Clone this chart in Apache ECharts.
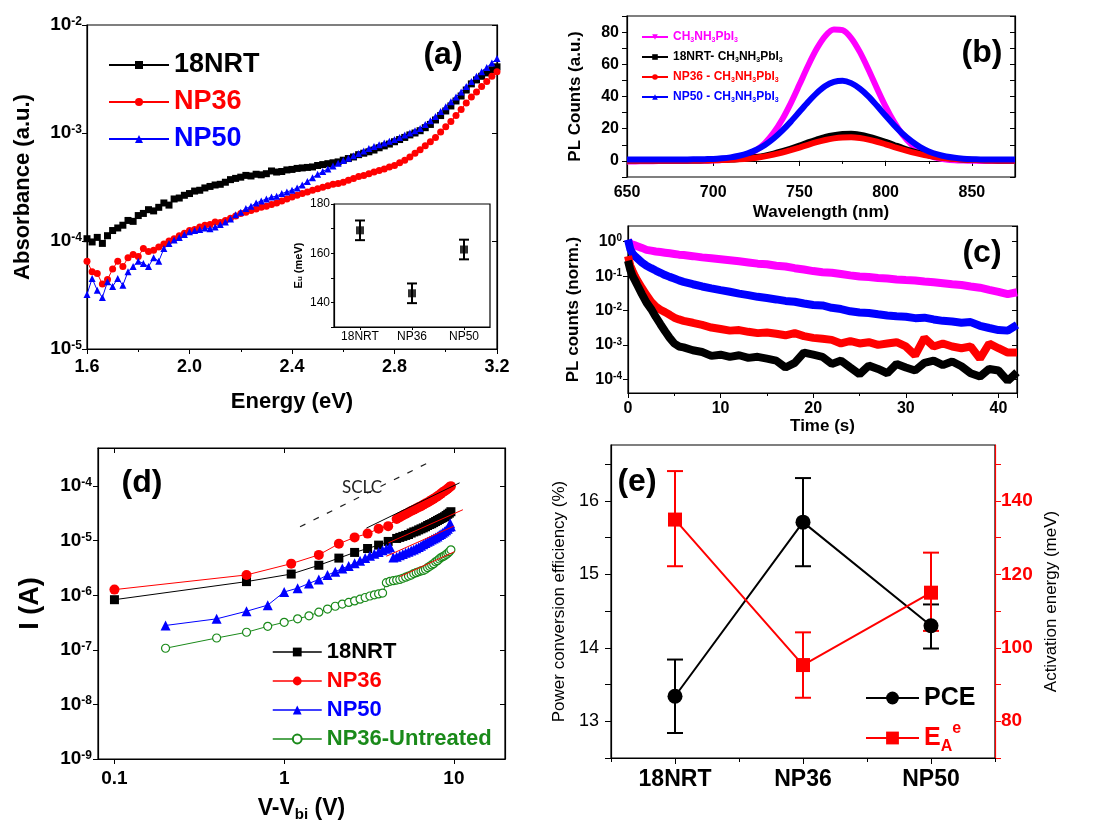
<!DOCTYPE html>
<html><head><meta charset="utf-8">
<script src="https://cdn.jsdelivr.net/npm/echarts@6/dist/echarts.min.js"></script>
<style>html,body{margin:0;padding:0;background:#fff}#c{width:1115px;height:825px}</style>
</head><body><div id="c"></div>
<script>
// ---------------- DATA ----------------
// (a) absorbance vs energy
const absEnergy = [1.60,1.62,1.64,1.66,1.68,1.70,1.72,1.74,1.76,1.78,1.80,1.82,1.84,1.86,1.88,1.90,1.92,1.94,1.96,1.98,2.00,2.02,2.04,2.06,2.08,2.10,2.12,2.14,2.16,2.18,2.20,2.22,2.24,2.26,2.28,2.30,2.32,2.34,2.36,2.38,2.40,2.42,2.44,2.46,2.48,2.50,2.52,2.54,2.56,2.58,2.60,2.62,2.64,2.66,2.68,2.70,2.72,2.74,2.76,2.78,2.80,2.82,2.84,2.86,2.88,2.90,2.92,2.94,2.96,2.98,3.00,3.02,3.04,3.06,3.08,3.10,3.12,3.14,3.16,3.18,3.20];
const abs18NRT = [1.05e-4,0.98e-4,1.08e-4,0.95e-4,1.12e-4,1.25e-4,1.32e-4,1.40e-4,1.55e-4,1.52e-4,1.72e-4,1.80e-4,1.95e-4,1.90e-4,2.05e-4,2.25e-4,2.15e-4,2.45e-4,2.50e-4,2.65e-4,2.75e-4,2.90e-4,2.95e-4,3.10e-4,3.20e-4,3.30e-4,3.35e-4,3.50e-4,3.70e-4,3.80e-4,3.90e-4,4.05e-4,4.00e-4,4.15e-4,4.10e-4,4.20e-4,4.45e-4,4.35e-4,4.40e-4,4.55e-4,4.60e-4,4.70e-4,4.75e-4,4.80e-4,4.85e-4,5.00e-4,5.10e-4,5.20e-4,5.30e-4,5.40e-4,5.60e-4,5.80e-4,6.00e-4,6.30e-4,6.50e-4,6.70e-4,6.95e-4,7.30e-4,7.60e-4,7.90e-4,8.30e-4,8.70e-4,9.10e-4,9.60e-4,1.00e-3,1.05e-3,1.12e-3,1.20e-3,1.32e-3,1.45e-3,1.60e-3,1.78e-3,1.98e-3,2.20e-3,2.50e-3,2.85e-3,3.10e-3,3.35e-3,3.60e-3,3.85e-3,4.10e-3];
const absNP36 = [6.5e-5,5.2e-5,5.0e-5,4.0e-5,4.4e-5,5.5e-5,6.5e-5,5.8e-5,7.0e-5,7.5e-5,7.2e-5,8.5e-5,8.0e-5,8.2e-5,8.8e-5,9.4e-5,1.0e-4,1.05e-4,1.12e-4,1.18e-4,1.25e-4,1.28e-4,1.35e-4,1.40e-4,1.42e-4,1.50e-4,1.48e-4,1.55e-4,1.62e-4,1.70e-4,1.80e-4,1.85e-4,1.92e-4,1.98e-4,2.05e-4,2.10e-4,2.18e-4,2.25e-4,2.35e-4,2.45e-4,2.55e-4,2.65e-4,2.75e-4,2.85e-4,2.95e-4,3.05e-4,3.15e-4,3.25e-4,3.35e-4,3.40e-4,3.50e-4,3.65e-4,3.80e-4,3.95e-4,4.05e-4,4.20e-4,4.35e-4,4.50e-4,4.65e-4,4.85e-4,5.00e-4,5.30e-4,5.60e-4,6.00e-4,6.50e-4,7.00e-4,7.60e-4,8.30e-4,9.10e-4,1.02e-3,1.14e-3,1.28e-3,1.45e-3,1.65e-3,1.90e-3,2.15e-3,2.40e-3,2.70e-3,3.00e-3,3.35e-3,3.70e-3];
const absNP50 = [3.2e-5,4.5e-5,3.5e-5,3.0e-5,4.2e-5,3.8e-5,4.5e-5,3.9e-5,5.2e-5,5.8e-5,6.5e-5,6.2e-5,5.8e-5,7.0e-5,6.5e-5,8.5e-5,9.5e-5,1.02e-4,1.08e-4,1.15e-4,1.22e-4,1.25e-4,1.28e-4,1.32e-4,1.30e-4,1.35e-4,1.42e-4,1.50e-4,1.60e-4,1.75e-4,1.85e-4,2.00e-4,2.10e-4,2.25e-4,2.35e-4,2.45e-4,2.55e-4,2.60e-4,2.75e-4,2.85e-4,2.95e-4,3.10e-4,3.30e-4,3.55e-4,3.85e-4,4.15e-4,4.40e-4,4.65e-4,4.95e-4,5.25e-4,5.55e-4,5.85e-4,6.15e-4,6.45e-4,6.80e-4,7.20e-4,7.50e-4,7.80e-4,8.10e-4,8.40e-4,8.70e-4,9.10e-4,9.60e-4,1.00e-3,1.05e-3,1.10e-3,1.20e-3,1.30e-3,1.42e-3,1.58e-3,1.75e-3,1.95e-3,2.15e-3,2.40e-3,2.70e-3,3.00e-3,3.35e-3,3.70e-3,4.05e-3,4.45e-3,4.90e-3];
// (a) inset: Urbach energy
const insetSamples = ['18NRT','NP36','NP50'];
const insetEu = [169.3,143.7,161.5];
const insetEuErr = [4,4,4];
// (b) PL spectra
const plWavelength = [650,655,660,665,670,675,680,685,690,695,700,705,710,715,720,725,730,735,740,745,750,755,760,765,770,775,780,785,790,795,800,805,810,815,820,825,830,835,840,845,850,855,860,865,870,875];
const plMAPI = [-0.3,-0.3,-0.2,-0.2,-0.1,0,0,0,0.1,0.1,0.3,0.5,1.1,2.1,3.8,6.7,11.1,17.4,25.7,35.9,47.4,59.1,69.6,77.6,81.6,81.2,76.3,67.7,56.8,45.0,33.7,23.9,16.0,10.1,6.0,3.4,1.8,0.9,0.4,0.2,0.1,0,0,0,0,0];
const pl18NRT = [0.3,0.3,0.3,0.3,0.3,0.3,0.3,0.3,0.3,0.35,0.5,0.6,0.8,1.2,1.7,2.4,3.3,4.5,6.0,7.7,9.5,11.5,13.3,14.9,16.0,16.7,16.8,16.2,15.1,13.6,11.8,9.9,8.0,6.3,4.8,3.5,2.5,1.8,1.3,0.9,0.7,0.5,0.4,0.3,0.3,0.3];
const plNP36 = [0.2,0.2,0.2,0.2,0.2,0.2,0.2,0.2,0.2,0.25,0.35,0.5,0.7,1.0,1.4,2.0,2.8,3.9,5.2,6.7,8.3,10.0,11.6,13.0,14.0,14.6,14.7,14.2,13.2,11.9,10.3,8.6,7.0,5.5,4.2,3.1,2.2,1.6,1.1,0.8,0.6,0.4,0.3,0.2,0.2,0.2];
const plNP50 = [0.8,0.8,0.8,0.8,0.8,0.8,0.9,0.9,1.0,1.1,1.2,1.6,2.2,3.2,4.7,6.9,9.9,13.9,18.8,24.4,30.5,36.6,42.1,46.5,49.1,49.8,48.3,44.9,40.1,34.2,28.0,22.1,16.7,12.2,8.6,5.9,4.0,2.7,1.9,1.4,1.1,0.9,0.8,0.8,0.8,0.8];
// (c) PL decay
const trTime = [0,0.25,0.5,0.75,1,1.5,2,2.5,3,3.5,4,4.5,5,5.5,6,7,8,9,10,11,12,13,14,15,16,17,18,19,20,21,22,23,24,25,26,27,28,29,30,31,32,33,34,35,36,37,38,39,40,41,42];
const trMAPI = [1.05,0.88,0.82,0.78,0.74,0.66,0.58,0.55,0.52,0.5,0.48,0.46,0.44,0.42,0.41,0.38,0.35,0.33,0.31,0.29,0.27,0.25,0.23,0.22,0.2,0.19,0.17,0.155,0.14,0.13,0.125,0.115,0.105,0.098,0.094,0.088,0.085,0.08,0.077,0.075,0.07,0.066,0.062,0.058,0.055,0.05,0.046,0.04,0.035,0.03,0.034];
const trNP50 = [1.15,0.6,0.45,0.38,0.33,0.25,0.2,0.17,0.145,0.125,0.107,0.095,0.085,0.075,0.068,0.058,0.05,0.044,0.039,0.035,0.031,0.028,0.025,0.023,0.021,0.019,0.018,0.016,0.0145,0.014,0.012,0.011,0.0095,0.0088,0.0085,0.0078,0.0072,0.0068,0.0066,0.006,0.0062,0.0055,0.005,0.0048,0.0044,0.0046,0.0036,0.0031,0.0027,0.0026,0.0038];
const trNP36 = [0.38,0.2,0.14,0.1,0.075,0.045,0.028,0.018,0.013,0.0105,0.009,0.0075,0.0062,0.0055,0.005,0.0044,0.0038,0.0032,0.0029,0.0026,0.0027,0.0024,0.0022,0.0023,0.0021,0.0019,0.0022,0.0018,0.0016,0.0015,0.0014,0.0011,0.0013,0.0011,0.0012,0.001,0.0011,0.0012,0.0009,0.0005,0.0016,0.0009,0.0011,0.0009,0.0008,0.0009,0.0004,0.0011,0.0008,0.0006,0.0006];
const tr18NRT = [0.28,0.15,0.1,0.075,0.055,0.03,0.017,0.011,0.0065,0.004,0.0025,0.0016,0.0011,0.0009,0.00085,0.0007,0.00062,0.00048,0.00052,0.00045,0.0005,0.00042,0.00045,0.0004,0.00035,0.00022,0.0003,0.0006,0.00052,0.00045,0.00028,0.00035,0.00022,0.00014,0.00025,0.0002,0.00015,0.00028,0.00022,0.00018,0.0003,0.00035,0.00026,0.00033,0.00024,0.00015,0.00012,0.0002,0.00018,0.00009,0.00016];
// (d) I-V (log-log)
const ivV18NRT = [0.1,0.6,1.1,1.6,2.1,2.6,3.1,3.6,4.1,4.6,4.8,5.0,5.2,5.4,5.6,5.8,6.0,6.2,6.4,6.6,6.8,7.0,7.2,7.4,7.6,7.8,8.0,8.2,8.4,8.6,8.8,9.0,9.2,9.4,9.6];
const ivI18NRT = [8.3e-7,1.78e-6,2.45e-6,3.55e-6,4.8e-6,6.1e-6,7.2e-6,8.3e-6,9.7e-6,1.1e-5,1.15e-5,1.2e-5,1.25e-5,1.3e-5,1.38e-5,1.45e-5,1.5e-5,1.58e-5,1.65e-5,1.72e-5,1.8e-5,1.9e-5,1.98e-5,2.05e-5,2.15e-5,2.25e-5,2.35e-5,2.45e-5,2.55e-5,2.65e-5,2.75e-5,2.9e-5,3.05e-5,3.2e-5,3.4e-5];
const ivVNP36 = [0.1,0.6,1.1,1.6,2.1,2.6,3.1,3.6,4.1,4.6,4.8,5.0,5.2,5.4,5.6,5.8,6.0,6.2,6.4,6.6,6.8,7.0,7.2,7.4,7.6,7.8,8.0,8.2,8.4,8.6,8.8,9.0,9.2,9.4,9.6];
const ivINP36 = [1.27e-6,2.36e-6,3.8e-6,5.5e-6,8.8e-6,1.15e-5,1.35e-5,1.66e-5,1.85e-5,2.5e-5,2.7e-5,2.9e-5,3.1e-5,3.3e-5,3.5e-5,3.7e-5,3.9e-5,4.1e-5,4.3e-5,4.55e-5,4.8e-5,5.0e-5,5.3e-5,5.6e-5,5.9e-5,6.2e-5,6.5e-5,6.9e-5,7.3e-5,7.7e-5,8.1e-5,8.5e-5,9.0e-5,9.5e-5,1.0e-4];
const ivVNP50 = [0.2,0.4,0.6,0.8,1.0,1.2,1.4,1.6,1.8,2.0,2.2,2.4,2.6,2.8,3.0,3.2,3.4,3.6,3.8,4.0,4.2,4.4,4.6,4.8,5.0,5.2,5.4,5.6,5.8,6.0,6.2,6.4,6.6,6.8,7.0,7.2,7.4,7.6,7.8,8.0,8.2,8.4,8.6,8.8,9.0,9.2,9.4,9.5,9.6];
const ivINP50 = [2.8e-7,3.7e-7,5.1e-7,6.6e-7,1.15e-6,1.35e-6,1.65e-6,1.95e-6,2.35e-6,2.7e-6,3.1e-6,3.45e-6,3.85e-6,4.3e-6,4.8e-6,5.3e-6,5.8e-6,6.2e-6,6.7e-6,7.1e-6,7.7e-6,4.9e-6,5.1e-6,5.4e-6,5.7e-6,6.0e-6,6.3e-6,6.6e-6,6.9e-6,7.3e-6,7.7e-6,8.1e-6,8.6e-6,9.1e-6,9.6e-6,1.0e-5,1.05e-5,1.1e-5,1.15e-5,1.2e-5,1.27e-5,1.33e-5,1.4e-5,1.47e-5,1.55e-5,1.65e-5,1.8e-5,2.1e-5,1.85e-5];
const ivVUntr = [0.2,0.4,0.6,0.8,1.0,1.2,1.4,1.6,1.8,2.0,2.2,2.4,2.6,2.8,3.0,3.2,3.4,3.6,3.8,4.0,4.2,4.4,4.6,4.8,5.0,5.2,5.4,5.6,5.8,6.0,6.2,6.4,6.6,6.8,7.0,7.2,7.4,7.6,7.8,8.0,8.2,8.4,8.6,8.8,9.0,9.2,9.4,9.6];
const ivIUntr = [1.07e-7,1.65e-7,2.1e-7,2.7e-7,3.2e-7,3.7e-7,4.2e-7,4.9e-7,5.6e-7,6.3e-7,6.9e-7,7.4e-7,7.9e-7,8.5e-7,9.1e-7,9.7e-7,1.02e-6,1.06e-6,1.1e-6,1.7e-6,1.8e-6,1.85e-6,1.9e-6,1.95e-6,2.05e-6,2.15e-6,2.25e-6,2.35e-6,2.5e-6,2.6e-6,2.7e-6,2.8e-6,2.85e-6,3.0e-6,3.2e-6,3.4e-6,3.6e-6,3.8e-6,4.1e-6,4.3e-6,4.6e-6,4.9e-6,5.1e-6,5.3e-6,5.6e-6,5.9e-6,6.3e-6,6.8e-6];
const fitNP36 = [[3.05,1.7e-5],[10.8,1.15e-4]];
const fit18NRT = [[4.1,9.1e-6],[11.3,3.7e-5]];
const fitNP50 = [[4.0,5.2e-6],[10.0,1.85e-5]];
const fitUntr = [[4.8,2.2e-6],[10.1,6.3e-6]];
const sclcGuide = [[1.24,1.8e-5],[6.9,2.6e-4]];
// (e) PCE and activation energy
const devSamples = ['18NRT','NP36','NP50'];
const pce = [13.34,15.71,14.30];
const pceLow = [12.84,15.11,13.99];
const pceHigh = [13.84,16.31,14.59];
const actE = [134.9,95.3,115.0];
const actELow = [122.2,86.4,104.6];
const actEHigh = [148.1,104.2,125.9];

// ---------------- HELPERS ----------------
const FF = '"Liberation Sans", Arial, sans-serif';
const zip = (xs, ys) => xs.map((x, i) => [x, ys[i]]);
function pow10(v) {
  const l = Math.log10(v), e = Math.round(l);
  if (Math.abs(l - e) > 0.01) return '';
  return '{b|10}{s|' + e + '}';
}
function logRich(bs, ss) {
  return { b: { fontSize: bs, fontWeight: 'bold', fontFamily: FF, color: '#000' },
           s: { fontSize: ss, fontWeight: 'bold', fontFamily: FF, color: '#000', verticalAlign: 'top', lineHeight: ss } };
}
function errBar(color, cap, lw) {
  return function (params, api) {
    const x = api.value(0), lo = api.value(1), hi = api.value(2);
    const a = api.coord([x, lo]), b = api.coord([x, hi]);
    const st = { stroke: color, lineWidth: lw };
    return { type: 'group', children: [
      { type: 'line', shape: { x1: a[0], y1: a[1], x2: b[0], y2: b[1] }, style: st },
      { type: 'line', shape: { x1: a[0] - cap, y1: a[1], x2: a[0] + cap, y2: a[1] }, style: st },
      { type: 'line', shape: { x1: b[0] - cap, y1: b[1], x2: b[0] + cap, y2: b[1] }, style: st }
    ] };
  };
}
const frame = { show: true, borderColor: '#000', borderWidth: 1.2, backgroundColor: 'transparent' };
const axLine = (c) => ({ show: true, lineStyle: { color: c || '#000', width: 1.2 } });
const tickOut = { show: true, inside: false, length: 5, lineStyle: { color: '#000' } };
const tickIn = { show: true, inside: true, length: 5, lineStyle: { color: '#000' } };
const minorOut = { show: true, splitNumber: 2, length: 3, lineStyle: { color: '#000' } };
const hiddenLabel = { show: false };
const titleStyle = (fs, bold) => ({ fontSize: fs, fontWeight: bold ? 'bold' : 'normal', color: '#000', fontFamily: FF });

const legendLabels = {
  a18: '18NRT', a36: 'NP36', a50: 'NP50',
  bM: 'CH{s|3}NH{s|3}PbI{s|3}', b18: '18NRT- CH{s|3}NH{s|3}PbI{s|3}', b36: 'NP36 - CH{s|3}NH{s|3}PbI{s|3}', b50: 'NP50 - CH{s|3}NH{s|3}PbI{s|3}',
  d18: '18NRT', d36: 'NP36', d50: 'NP50', dU: 'NP36-Untreated',
  ePCE: 'PCE', eEA: 'E{s|A}{p|e}'
};
const lf = (n) => legendLabels[n] || n;

// ---------------- CHART ----------------
const chart = echarts.init(document.getElementById('c'), null, { renderer: 'canvas' });
const option = {
  animation: false,
  backgroundColor: '#fff',
  grid: [
    Object.assign({ left: 87, top: 25, width: 410, height: 324 }, frame),
    Object.assign({}, frame, { left: 334, top: 204, width: 156, height: 123, backgroundColor: '#fff', z: 5 }),
    Object.assign({ left: 627, top: 16, width: 388, height: 161 }, frame),
    Object.assign({ left: 628, top: 226, width: 389, height: 167 }, frame),
    Object.assign({ left: 98, top: 448, width: 407, height: 311 }, frame),
    Object.assign({ left: 611, top: 445, width: 384, height: 313 }, frame)
  ],
  xAxis: [
    // 0: (a)
    { gridIndex: 0, type: 'value', min: 1.6, max: 3.2, interval: 0.4,
      axisLine: axLine(), axisTick: tickOut, minorTick: minorOut, splitLine: { show: false },
      axisLabel: { margin: 9, fontSize: 18, fontWeight: 'bold', color: '#000', fontFamily: FF, formatter: v => v.toFixed(1) },
      name: 'Energy (eV)', nameLocation: 'middle', nameGap: 42, nameTextStyle: titleStyle(22, true) },
    // 1: inset
    { gridIndex: 1, type: 'category', data: insetSamples, boundaryGap: true, z: 6,
      axisLine: axLine(), axisTick: { show: true, inside: false, alignWithLabel: true, length: 3, lineStyle: { color: '#000' } },
      axisLabel: { margin: 4, fontSize: 12, color: '#000', fontFamily: FF } },
    // 2: (b)
    { gridIndex: 2, type: 'value', min: 650, max: 875, interval: 50,
      axisLine: axLine(), axisTick: tickOut, minorTick: minorOut, splitLine: { show: false },
      axisLabel: { margin: 8, fontSize: 16, fontWeight: 'bold', color: '#000', fontFamily: FF, showMaxLabel: false },
      name: 'Wavelength (nm)', nameLocation: 'middle', nameGap: 27, nameTextStyle: titleStyle(17, true) },
    // 3: (c)
    { gridIndex: 3, type: 'value', min: 0, max: 42, interval: 10,
      axisLine: axLine(), axisTick: tickOut, minorTick: minorOut, splitLine: { show: false },
      axisLabel: { margin: 8, fontSize: 16, fontWeight: 'bold', color: '#000', fontFamily: FF, showMaxLabel: false },
      name: 'Time (s)', nameLocation: 'middle', nameGap: 25, nameTextStyle: titleStyle(17, true) },
    // 4: (d)
    { gridIndex: 4, type: 'log', min: 0.08, max: 20, logBase: 10,
      axisLine: axLine(), axisTick: tickOut, splitLine: { show: false },
      axisLabel: { margin: 10, fontSize: 19, fontWeight: 'bold', color: '#000', fontFamily: FF, showMinLabel: false, showMaxLabel: false,
                   formatter: v => { const l = Math.log10(v); return Math.abs(l - Math.round(l)) < 0.01 ? String(+v.toPrecision(3)) : ''; } },
      name: 'V-V{sub|bi} (V)', nameLocation: 'middle', nameGap: 36,
      nameTextStyle: Object.assign(titleStyle(23, true), {
        rich: { sub: { fontSize: 15, fontWeight: 'bold', fontFamily: FF, color: '#000', verticalAlign: 'bottom', padding: [12, 0, 0, 0] } } }) },
    // 5: (e)
    { gridIndex: 5, type: 'category', data: devSamples, boundaryGap: true,
      axisLine: axLine(), axisTick: { show: true, inside: false, alignWithLabel: true, length: 6, lineStyle: { color: '#000' } },
      axisLabel: { margin: 10, fontSize: 23, fontWeight: 'bold', color: '#000', fontFamily: FF } },
    // 6: (e) boundary ticks
    { gridIndex: 5, type: 'category', data: devSamples, boundaryGap: true, position: 'bottom',
      axisLine: axLine(), axisTick: { show: true, inside: false, length: 4, lineStyle: { color: '#000' } }, axisLabel: hiddenLabel },
    // 7: (d) top mirror
    { gridIndex: 4, type: 'log', min: 0.08, max: 20, logBase: 10, position: 'top',
      axisLine: axLine(), axisTick: tickIn, axisLabel: hiddenLabel, splitLine: { show: false } },
    // 8: (b) top mirror
    { gridIndex: 2, type: 'value', min: 650, max: 875, interval: 50, position: 'top',
      axisLine: axLine(), axisTick: tickIn, axisLabel: hiddenLabel, splitLine: { show: false } }
  ],
  yAxis: [
    // 0: (a)
    { gridIndex: 0, type: 'log', min: 1e-5, max: 1e-2, logBase: 10,
      axisLine: axLine(), axisTick: tickOut, splitLine: { show: false },
      axisLabel: { margin: 5, formatter: pow10, rich: logRich(19, 12) },
      name: 'Absorbance (a.u.)', nameLocation: 'middle', nameGap: 53, nameTextStyle: titleStyle(22, true) },
    // 1: inset
    { gridIndex: 1, type: 'value', min: 130, max: 180, interval: 10, z: 6,
      axisLine: axLine(), axisTick: { show: true, inside: false, length: 3, lineStyle: { color: '#000' } }, splitLine: { show: false },
      axisLabel: { margin: 4, fontSize: 12, color: '#000', fontFamily: FF, formatter: v => (v % 20 === 0 ? v : '') },
      name: 'E{sub|u} (meV)', nameLocation: 'middle', nameGap: 30,
      nameTextStyle: Object.assign(titleStyle(11, true), {
        rich: { sub: { fontSize: 8, fontWeight: 'bold', fontFamily: FF, color: '#000', verticalAlign: 'bottom' } } }) },
    // 2: (b)
    { gridIndex: 2, type: 'value', min: -10, max: 90, interval: 10,
      axisLine: axLine(), axisTick: tickOut, splitLine: { show: false },
      axisLabel: { margin: 8, fontSize: 16, fontWeight: 'bold', color: '#000', fontFamily: FF, formatter: v => (v % 20 === 0 ? v : '') },
      name: 'PL Counts (a.u.)', nameLocation: 'middle', nameGap: 43, nameTextStyle: titleStyle(17, true) },
    // 3: (c)
    { gridIndex: 3, type: 'log', min: 4e-5, max: 2.86, logBase: 10,
      axisLine: axLine(), axisTick: tickOut, splitLine: { show: false },
      axisLabel: { margin: 6, formatter: pow10, rich: logRich(16, 10), showMinLabel: false, showMaxLabel: false },
      name: 'PL counts (norm.)', nameLocation: 'middle', nameGap: 46, nameTextStyle: titleStyle(17, true) },
    // 4: (d)
    { gridIndex: 4, type: 'log', min: 1e-9, max: 5e-4, logBase: 10,
      axisLine: axLine(), axisTick: tickOut, splitLine: { show: false },
      axisLabel: { margin: 6, formatter: pow10, rich: logRich(19, 12), showMaxLabel: false },
      name: 'I (A)', nameLocation: 'middle', nameGap: 54, nameTextStyle: titleStyle(27, true) },
    // 5: (e) left
    { gridIndex: 5, type: 'value', min: 12.5, max: 16.76, interval: 0.5, position: 'left',
      axisLine: axLine(), axisTick: { show: true, inside: false, length: 6, lineStyle: { color: '#000' } }, splitLine: { show: false },
      axisLabel: { margin: 12, fontSize: 18, color: '#000', fontFamily: FF, showMaxLabel: false,
                   formatter: v => (Math.abs(v - Math.round(v)) < 1e-6 ? String(Math.round(v)) : '') },
      name: 'Power conversion efficiency (%)', nameLocation: 'middle', nameGap: 43, nameTextStyle: titleStyle(17, false) },
    // 6: (e) right
    { gridIndex: 5, type: 'value', min: 70, max: 155.2, interval: 10, position: 'right',
      axisLine: axLine('#ff0000'), axisTick: { show: true, inside: false, length: 6, lineStyle: { color: '#ff0000' } }, splitLine: { show: false },
      axisLabel: { margin: 6, fontSize: 19, fontWeight: 'bold', color: '#ff0000', fontFamily: FF, showMaxLabel: false,
                   formatter: v => (v % 20 === 0 ? v : '') },
      name: 'Activation energy (meV)', nameLocation: 'middle', nameGap: 48, nameRotate: 90, nameTextStyle: titleStyle(17, false) },
    // 7: (a) right mirror
    { gridIndex: 0, type: 'log', min: 1e-5, max: 1e-2, logBase: 10, position: 'right',
      axisLine: axLine(), axisTick: tickIn, axisLabel: hiddenLabel, splitLine: { show: false } },
    // 8: (d) right mirror
    { gridIndex: 4, type: 'log', min: 1e-9, max: 5e-4, logBase: 10, position: 'right',
      axisLine: axLine(), axisTick: tickIn, axisLabel: hiddenLabel, splitLine: { show: false } },
    // 9: (b) right mirror
    { gridIndex: 2, type: 'value', min: -10, max: 90, interval: 10, position: 'right',
      axisLine: axLine(), axisTick: tickIn, axisLabel: hiddenLabel, splitLine: { show: false } },
    // 10: (c) right mirror
    { gridIndex: 3, type: 'log', min: 4e-5, max: 2.86, logBase: 10, position: 'right',
      axisLine: axLine(), axisTick: tickIn, axisLabel: hiddenLabel, splitLine: { show: false } }
  ],
  legend: [
    { left: 103, top: 46, orient: 'vertical', itemWidth: 60, itemHeight: 10, itemGap: 9, selectedMode: false,
      formatter: lf, lineStyle: { width: 2 },
      textStyle: { fontSize: 27, fontWeight: 'bold', fontFamily: FF, lineHeight: 28 },
      data: [{ name: 'a18', textStyle: { color: '#000' } }, { name: 'a36', textStyle: { color: '#ff0000' } }, { name: 'a50', textStyle: { color: '#0000ff' } }] },
    { left: 636, top: 25, orient: 'vertical', itemWidth: 26, itemHeight: 7, itemGap: 6, selectedMode: false,
      formatter: lf, lineStyle: { width: 2 },
      textStyle: { fontSize: 12, fontWeight: 'bold', fontFamily: FF, lineHeight: 14,
        rich: { s: { fontSize: 7, fontWeight: 'bold', fontFamily: FF, verticalAlign: 'bottom', lineHeight: 14 } } },
      data: [{ name: 'bM', textStyle: { color: '#ff00ff' } }, { name: 'b18', textStyle: { color: '#000' } },
             { name: 'b36', textStyle: { color: '#ff0000' } }, { name: 'b50', textStyle: { color: '#0000ff' } }] },
    { left: 267, top: 636, orient: 'vertical', itemWidth: 49, itemHeight: 11, itemGap: 7, selectedMode: false,
      formatter: lf, lineStyle: { width: 1.5 },
      textStyle: { fontSize: 22, fontWeight: 'bold', fontFamily: FF, lineHeight: 22 },
      data: [{ name: 'd18', textStyle: { color: '#000' } }, { name: 'd36', textStyle: { color: '#ff0000' } },
             { name: 'd50', textStyle: { color: '#0000ff' } }, { name: 'dU', textStyle: { color: '#1a8a1a' } }] },
    { left: 860, top: 679, orient: 'vertical', itemWidth: 53, itemHeight: 16, itemGap: 9, selectedMode: false,
      formatter: lf, lineStyle: { width: 2 },
      textStyle: { fontSize: 25, fontWeight: 'bold', fontFamily: FF, lineHeight: 28,
        rich: { s: { fontSize: 16, fontWeight: 'bold', fontFamily: FF, verticalAlign: 'bottom', lineHeight: 34 },
                p: { fontSize: 16, fontWeight: 'bold', fontFamily: FF, verticalAlign: 'top', lineHeight: 14 } } },
      data: [{ name: 'ePCE', textStyle: { color: '#000' } }, { name: 'eEA', textStyle: { color: '#ff0000' } }] }
  ],
  graphic: [
    { type: 'text', x: 443, y: 55, style: { text: '(a)', font: 'bold 32px ' + FF, fill: '#000', textAlign: 'center', textVerticalAlign: 'middle' }, z: 10 },
    { type: 'text', x: 982, y: 53, style: { text: '(b)', font: 'bold 32px ' + FF, fill: '#000', textAlign: 'center', textVerticalAlign: 'middle' }, z: 10 },
    { type: 'text', x: 982, y: 253, style: { text: '(c)', font: 'bold 32px ' + FF, fill: '#000', textAlign: 'center', textVerticalAlign: 'middle' }, z: 10 },
    { type: 'text', x: 142, y: 483, style: { text: '(d)', font: 'bold 32px ' + FF, fill: '#000', textAlign: 'center', textVerticalAlign: 'middle' }, z: 10 },
    { type: 'text', x: 637, y: 482, style: { text: '(e)', font: 'bold 32px ' + FF, fill: '#000', textAlign: 'center', textVerticalAlign: 'middle' }, z: 10 },
    { type: 'text', x: 362, y: 488, style: { text: 'SCLC', font: '17px Lato, "Open Sans", sans-serif', fill: '#222', textAlign: 'center', textVerticalAlign: 'middle' }, z: 10 }
  ],
  series: [
    // (a)
    { name: 'a18', type: 'line', xAxisIndex: 0, yAxisIndex: 0, data: zip(absEnergy, abs18NRT), symbol: 'rect', symbolSize: 7,
      itemStyle: { color: '#000' }, lineStyle: { color: '#000', width: 1 } },
    { name: 'a36', type: 'line', xAxisIndex: 0, yAxisIndex: 0, data: zip(absEnergy, absNP36), symbol: 'circle', symbolSize: 7,
      itemStyle: { color: '#ff0000' }, lineStyle: { color: '#ff0000', width: 1 } },
    { name: 'a50', type: 'line', xAxisIndex: 0, yAxisIndex: 0, data: zip(absEnergy, absNP50), symbol: 'triangle', symbolSize: 7,
      itemStyle: { color: '#0000ff' }, lineStyle: { color: '#0000ff', width: 1 } },
    // (a) inset
    { name: 'insetErr', type: 'custom', xAxisIndex: 1, yAxisIndex: 1, z: 7,
      renderItem: errBar('#000', 5, 2),
      data: insetEu.map((v, i) => [i, v - insetEuErr[i], v + insetEuErr[i]]), encode: { x: 0, y: [1, 2] } },
    { name: 'insetEu', type: 'scatter', xAxisIndex: 1, yAxisIndex: 1, z: 8, symbol: 'rect', symbolSize: 8,
      itemStyle: { color: '#000' }, data: insetEu.map((v, i) => [i, v]) },
    // (b)
    { name: 'bM', type: 'line', xAxisIndex: 2, yAxisIndex: 2, data: zip(plWavelength, plMAPI), symbol: 'triangle', symbolRotate: 180, showSymbol: false, symbolSize: 7,
      itemStyle: { color: '#ff00ff' }, lineStyle: { color: '#ff00ff', width: 6 }, smooth: 0.3 },
    { name: 'b18', type: 'line', xAxisIndex: 2, yAxisIndex: 2, data: zip(plWavelength, pl18NRT), symbol: 'rect', showSymbol: false, symbolSize: 7,
      itemStyle: { color: '#000' }, lineStyle: { color: '#000', width: 6 }, smooth: 0.3 },
    { name: 'b36', type: 'line', xAxisIndex: 2, yAxisIndex: 2, data: zip(plWavelength, plNP36), symbol: 'circle', showSymbol: false, symbolSize: 7,
      itemStyle: { color: '#ff0000' }, lineStyle: { color: '#ff0000', width: 6 }, smooth: 0.3 },
    { name: 'b50', type: 'line', xAxisIndex: 2, yAxisIndex: 2, data: zip(plWavelength, plNP50), symbol: 'triangle', showSymbol: false, symbolSize: 7,
      itemStyle: { color: '#0000ff' }, lineStyle: { color: '#0000ff', width: 6 }, smooth: 0.3 },
    // (c)
    { name: 'cM', type: 'line', xAxisIndex: 3, yAxisIndex: 3, data: zip(trTime, trMAPI), showSymbol: false,
      lineStyle: { color: '#ff00ff', width: 8 }, itemStyle: { color: '#ff00ff' } },
    { name: 'c50', type: 'line', xAxisIndex: 3, yAxisIndex: 3, data: zip(trTime, trNP50), showSymbol: false,
      lineStyle: { color: '#0000ff', width: 8 }, itemStyle: { color: '#0000ff' } },
    { name: 'c36', type: 'line', xAxisIndex: 3, yAxisIndex: 3, data: zip(trTime, trNP36), showSymbol: false,
      lineStyle: { color: '#ff0000', width: 8 }, itemStyle: { color: '#ff0000' } },
    { name: 'c18', type: 'line', xAxisIndex: 3, yAxisIndex: 3, data: zip(trTime, tr18NRT), showSymbol: false,
      lineStyle: { color: '#000', width: 8 }, itemStyle: { color: '#000' } },
    // (d)
    { name: 'd18', type: 'line', xAxisIndex: 4, yAxisIndex: 4, data: zip(ivV18NRT, ivI18NRT), symbol: 'rect', symbolSize: 9,
      itemStyle: { color: '#000' }, lineStyle: { color: '#000', width: 1 } },
    { name: 'd36', type: 'line', xAxisIndex: 4, yAxisIndex: 4, data: zip(ivVNP36, ivINP36), symbol: 'circle', symbolSize: 10,
      itemStyle: { color: '#ff0000' }, lineStyle: { color: '#ff0000', width: 1 } },
    { name: 'd50', type: 'line', xAxisIndex: 4, yAxisIndex: 4, data: zip(ivVNP50, ivINP50), symbol: 'triangle', symbolSize: 10,
      itemStyle: { color: '#0000ff' }, lineStyle: { color: '#0000ff', width: 1 } },
    { name: 'dU', type: 'line', xAxisIndex: 4, yAxisIndex: 4, data: zip(ivVUntr, ivIUntr), symbol: 'circle', symbolSize: 8,
      itemStyle: { color: '#fff', borderColor: '#1a8a1a', borderWidth: 1.2 }, lineStyle: { color: '#1a8a1a', width: 1 } },
    { name: 'fit36', type: 'line', xAxisIndex: 4, yAxisIndex: 4, data: fitNP36, showSymbol: false, z: 5, lineStyle: { color: '#000', width: 1 } },
    { name: 'fit18', type: 'line', xAxisIndex: 4, yAxisIndex: 4, data: fit18NRT, showSymbol: false, z: 5, lineStyle: { color: '#ff0000', width: 1 } },
    { name: 'fit50', type: 'line', xAxisIndex: 4, yAxisIndex: 4, data: fitNP50, showSymbol: false, z: 5, lineStyle: { color: '#ff0000', width: 1 } },
    { name: 'fitU', type: 'line', xAxisIndex: 4, yAxisIndex: 4, data: fitUntr, showSymbol: false, z: 5, lineStyle: { color: '#ff0000', width: 1 } },
    { name: 'sclc', type: 'line', xAxisIndex: 4, yAxisIndex: 4, data: sclcGuide, showSymbol: false, lineStyle: { color: '#222', width: 1.2, type: [6, 9] } },
    // (e)
    { name: 'pceErr', type: 'custom', xAxisIndex: 5, yAxisIndex: 5, renderItem: errBar('#000', 8, 2),
      data: pce.map((v, i) => [i, pceLow[i], pceHigh[i]]), encode: { x: 0, y: [1, 2] } },
    { name: 'eaErr', type: 'custom', xAxisIndex: 5, yAxisIndex: 6, renderItem: errBar('#ff0000', 8, 2),
      data: actE.map((v, i) => [i, actELow[i], actEHigh[i]]), encode: { x: 0, y: [1, 2] } },
    { name: 'ePCE', type: 'line', xAxisIndex: 5, yAxisIndex: 5, data: pce, symbol: 'circle', symbolSize: 15,
      itemStyle: { color: '#000' }, lineStyle: { color: '#000', width: 2 } },
    { name: 'eEA', type: 'line', xAxisIndex: 5, yAxisIndex: 6, data: actE, symbol: 'rect', symbolSize: 14,
      itemStyle: { color: '#ff0000' }, lineStyle: { color: '#ff0000', width: 2 } }
  ]
};
chart.setOption(option);
</script></body></html>
